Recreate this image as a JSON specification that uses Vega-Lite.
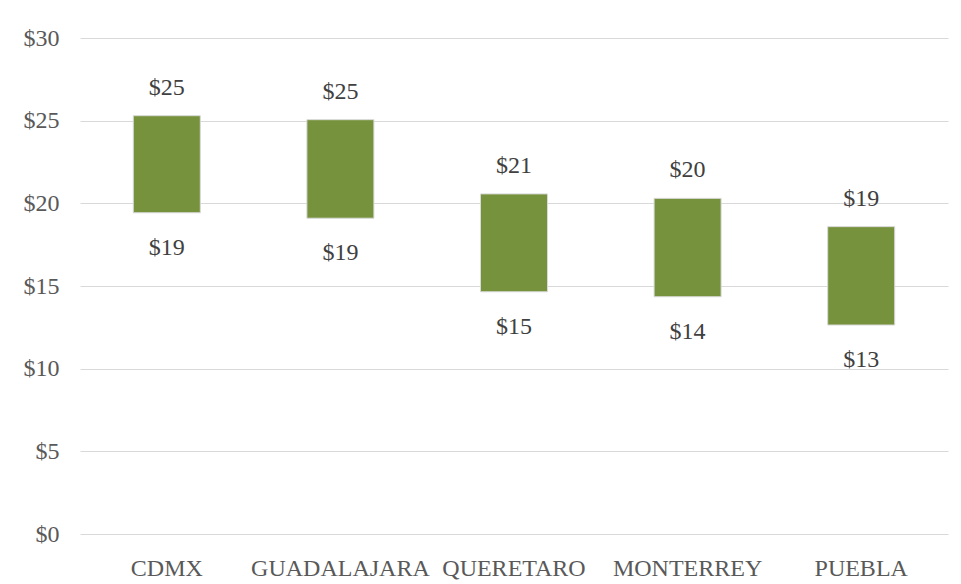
{
  "$schema": "https://vega.github.io/schema/vega-lite/v6.json",
  "width": 868,
  "height": 496,
  "autosize": {"type": "none"},
  "padding": {"left": 80, "top": 38, "right": 13, "bottom": 50},
  "background": "white",
  "data": {
    "values": [
      {"ciudad": "CDMX", "min": 19.43, "max": 25.3},
      {"ciudad": "GUADALAJARA", "min": 19.1, "max": 25.06},
      {"ciudad": "QUERETARO", "min": 14.65, "max": 20.57},
      {"ciudad": "MONTERREY", "min": 14.35, "max": 20.3},
      {"ciudad": "PUEBLA", "min": 12.64, "max": 18.59}
    ]
  },
  "encoding": {
    "x": {
      "field": "ciudad",
      "type": "nominal",
      "sort": null,
      "title": null,
      "scale": {"paddingInner": 0.614, "paddingOuter": 0.307},
      "axis": {
        "labelAngle": 0,
        "labelFont": "Liberation Serif",
        "labelFontSize": 24,
        "labelColor": "#595959",
        "labelPadding": 22,
        "ticks": false,
        "domain": false,
        "grid": false
      }
    }
  },
  "layer": [
    {
      "mark": {"type": "bar", "color": "#76923c", "stroke": "#d9d9d9", "strokeWidth": 1},
      "encoding": {
        "y": {
          "field": "min",
          "type": "quantitative",
          "title": null,
          "scale": {"domain": [0, 30]},
          "axis": {
            "values": [0, 5, 10, 15, 20, 25, 30],
            "format": "$.0f",
            "labelFont": "Liberation Serif",
            "labelFontSize": 24,
            "labelColor": "#595959",
            "labelPadding": 21,
            "ticks": false,
            "domain": false,
            "gridColor": "#d9d9d9",
            "gridWidth": 1
          }
        },
        "y2": {"field": "max"}
      }
    },
    {
      "mark": {"type": "text", "font": "Liberation Serif", "fontSize": 24, "color": "#404040", "baseline": "middle", "dy": -28},
      "encoding": {
        "y": {"field": "max", "type": "quantitative"},
        "text": {"field": "max", "type": "quantitative", "format": "$.0f"}
      }
    },
    {
      "mark": {"type": "text", "font": "Liberation Serif", "fontSize": 24, "color": "#404040", "baseline": "middle", "dy": 35},
      "encoding": {
        "y": {"field": "min", "type": "quantitative"},
        "text": {"field": "min", "type": "quantitative", "format": "$.0f"}
      }
    }
  ],
  "config": {"view": {"stroke": null}}
}
